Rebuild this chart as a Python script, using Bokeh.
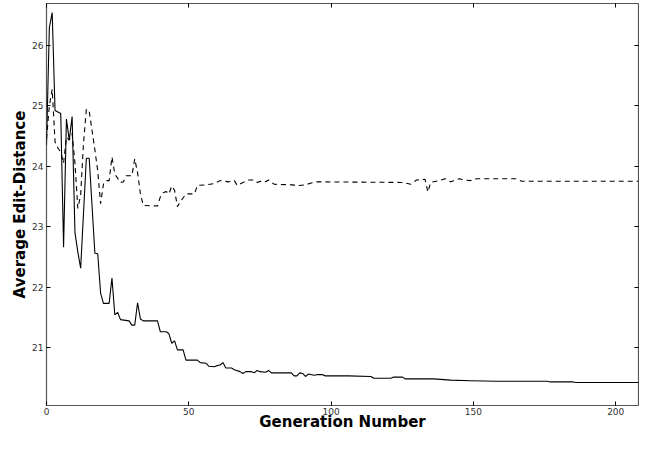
from bokeh.plotting import figure
from bokeh.models import LinearAxis, Range1d, FixedTicker
from bokeh.embed import file_html
from bokeh.resources import INLINE

# Solid series (vertices)
solid_gen = [0, 1, 2, 3, 5, 6, 7, 8, 9, 10, 11, 12, 14, 15, 17, 18, 19, 20, 22, 23,
             24, 25, 26, 29, 30, 31, 32, 33, 34, 39, 40, 42, 43, 44, 45, 46, 48, 49, 53, 54,
             56, 57, 59, 60, 61, 62, 63, 65, 66, 68, 69, 70, 72, 73, 74, 75, 77, 78, 79, 86,
             87, 88, 89, 90, 91, 92, 94, 95, 97, 98, 106, 114, 115, 121, 122, 125, 126, 136, 142, 149,
             158, 176, 177, 185, 186, 208]
solid_val = [24.35, 26.29, 26.54, 24.92, 24.87, 22.66, 24.78, 24.43, 24.82, 22.90, 22.58, 22.31, 24.13, 24.13, 22.56, 22.55, 21.90, 21.73, 21.73, 22.15,
             21.54, 21.58, 21.46, 21.44, 21.37, 21.37, 21.74, 21.47, 21.44, 21.44, 21.26, 21.26, 21.23, 21.07, 21.11, 20.96, 20.96, 20.79, 20.79, 20.75,
             20.74, 20.69, 20.68, 20.70, 20.71, 20.75, 20.66, 20.66, 20.63, 20.60, 20.57, 20.60, 20.60, 20.58, 20.62, 20.60, 20.59, 20.62, 20.58, 20.58,
             20.53, 20.53, 20.58, 20.57, 20.52, 20.56, 20.54, 20.55, 20.55, 20.53, 20.53, 20.52, 20.49, 20.49, 20.51, 20.51, 20.48, 20.48, 20.46, 20.45,
             20.44, 20.44, 20.43, 20.43, 20.42, 20.42]

# Dashed series (vertices)
dashed_gen = [0, 1, 2, 3, 4, 5, 6, 7, 8, 9, 10, 11, 12, 13, 14, 15, 17, 18, 19, 20,
              21, 22, 23, 24, 26, 27, 28, 30, 31, 32, 33, 34, 39, 40, 41, 42, 43, 44, 45, 46,
              47, 49, 52, 53, 56, 59, 61, 64, 66, 67, 69, 71, 73, 74, 76, 77, 78, 80, 86, 89,
              91, 93, 95, 125, 128, 130, 133, 134, 135, 138, 140, 142, 145, 147, 149, 151, 165, 167, 208]
dashed_val = [24.45, 25.00, 25.27, 24.40, 24.30, 24.23, 24.05, 24.48, 24.43, 24.54, 24.05, 23.30, 23.52, 24.38, 24.94, 24.91, 24.27, 23.92, 23.38, 23.70,
              23.76, 23.76, 24.15, 23.87, 23.73, 23.74, 23.84, 23.84, 24.12, 23.89, 23.54, 23.35, 23.34, 23.49, 23.56, 23.58, 23.54, 23.67, 23.60, 23.33,
              23.41, 23.54, 23.54, 23.68, 23.69, 23.71, 23.76, 23.74, 23.76, 23.68, 23.73, 23.77, 23.77, 23.73, 23.76, 23.74, 23.77, 23.70, 23.69, 23.68,
              23.69, 23.72, 23.74, 23.73, 23.70, 23.77, 23.78, 23.57, 23.73, 23.76, 23.79, 23.74, 23.79, 23.77, 23.76, 23.79, 23.79, 23.75, 23.75]

x_ticks = [0, 50, 100, 150, 200]
y_ticks = [21, 22, 23, 24, 25, 26]
x_label = "Generation Number"
y_label = "Average Edit-Distance"

FONT = "DejaVu Sans"

p = figure(width=639, height=433, output_backend="svg", toolbar_location=None,
           x_range=Range1d(0, 208), y_range=Range1d(20.04, 26.69),
           min_border_left=46, min_border_right=1, min_border_top=3, min_border_bottom=0)
p.grid.visible = False
p.outline_line_color = "#555555"
p.outline_line_width = 1.2

p.line(solid_gen, solid_val, line_color="black", line_width=1.1)
p.line(dashed_gen, dashed_val, line_color="black", line_width=1.1, line_dash="5 4")

def style(ax):
    ax.axis_line_color = None
    ax.major_tick_in = 4
    ax.major_tick_out = 0
    ax.major_tick_line_color = "black"
    ax.minor_tick_line_color = None
    ax.major_label_text_font = FONT
    ax.major_label_text_color = "#333333"
    ax.major_label_text_font_size = "9px"
    ax.axis_label_text_font = FONT
    ax.axis_label_text_font_style = "bold"
    ax.axis_label_text_font_size = "15px"
    ax.axis_label_text_color = "black"

xa = p.xaxis[0]
ya = p.yaxis[0]
xa.ticker = FixedTicker(ticks=x_ticks)
ya.ticker = FixedTicker(ticks=y_ticks)
xa.axis_label = x_label
ya.axis_label = y_label
style(xa)
style(ya)
xa.major_label_standoff = 2
xa.axis_label_standoff = -5
ya.major_label_standoff = 3
ya.axis_label_standoff = 0

ra = LinearAxis(ticker=FixedTicker(ticks=y_ticks),
                major_label_overrides={t: "" for t in y_ticks})
ta = LinearAxis(ticker=FixedTicker(ticks=x_ticks),
                major_label_overrides={t: "" for t in x_ticks})
style(ra)
style(ta)
ra.major_label_standoff = 0
ta.major_label_standoff = 0
p.add_layout(ra, "right")
p.add_layout(ta, "above")

open("out.html", "w").write(file_html(p, INLINE))
